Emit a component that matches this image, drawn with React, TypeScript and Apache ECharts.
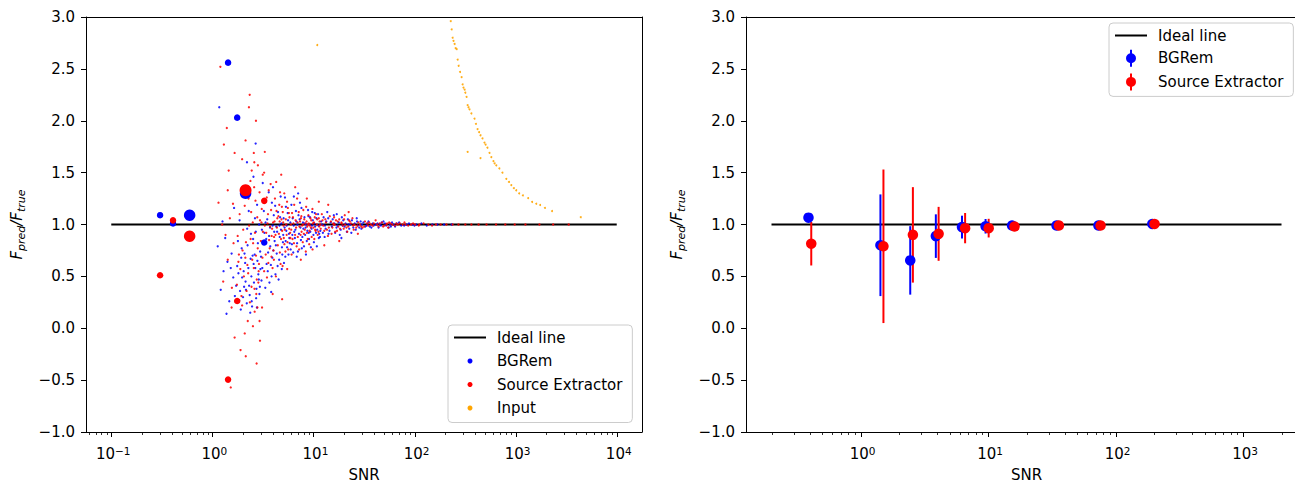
import React, { useEffect, useRef } from 'react';
import * as echarts from 'echarts';

const FONT = 'DejaVu Sans';
const FS = 15;
const BLUE = '#0000ff';
const RED = '#ff0000';
const ORANGE = '#ffa500';
const BLACK = '#000000';

// ---------- data ----------
const Y_MIN = -1;
const Y_MAX = 3;
const Y_INTERVAL = 0.5;

const LEFT_X_RANGE_LOG = [-1.25, 4.25];
const RIGHT_X_RANGE_LOG = [-0.899, 3.501];
const LEFT_MAJOR_EXP = [-1, 0, 1, 2, 3, 4];
const RIGHT_MAJOR_EXP = [0, 1, 2, 3];

const IDEAL_LEFT_SNR = [0.1, 10000];
const IDEAL_RIGHT_SNR = [0.2, 2000];
const IDEAL_RATIO = [1, 1];

// small scatter points [SNR, Fpred/Ftrue]
const BGREM_POINTS: [number, number][] = [
  [1.13, 0.79], [1.17, 2.13], [1.52, 0.58], [1.26, 1.03], [1.61, 0.49], [1.34, 0.87], [1.47, 0.26], [1.41, 0.64], [1.64, 1.16], [1.21, 0.37],
  [1.55, 0.72], [1.38, 0.14], [1.67, 0.31], [1.29, 0.55],
  [2.31, 0.41], [1.84, 0.27], [2.66, 0.58], [2.08, 0.72], [2.92, 0.33], [1.97, 0.49], [2.47, 0.21], [2.79, 0.65], [2.15, 0.37], [1.76, 0.6],
  [2.58, 0.44], [2.23, 0.8], [2.85, 0.52], [1.91, 0.18], [2.39, 0.67], [2.71, 0.29], [2.04, 0.55], [2.97, 0.74], [2.19, 0.24], [1.72, 0.41],
  [2.53, 0.86], [2.34, 0.32], [2.88, 0.47], [2.11, 0.63], [1.88, 0.36], [2.62, 0.71], [2.43, 0.5], [2.76, 0.2], [1.95, 0.77], [2.27, 0.58],
  [2.95, 0.4], [2.01, 0.3], [2.69, 0.93], [2.37, 0.15], [1.81, 0.53], [2.56, 0.62], [2.13, 0.45], [2.82, 0.82], [2.45, 0.26], [1.93, 0.68],
  [2.73, 0.38], [2.21, 0.96], [2.99, 0.57], [2.06, 0.4], [2.5, 0.7], [1.79, 0.84], [2.64, 1.06], [2.29, 1.13], [2.9, 1.0], [2.17, 1.27],
  [2.41, 0.91], [2.77, 1.19], [1.86, 1.04], [2.55, 1.46], [2.68, 1.78], [2.2, 1.6],
  [4.37, 0.93], [3.12, 0.58], [5.61, 1.04], [3.88, 1.21], [4.92, 0.71], [3.41, 0.86], [5.18, 0.97], [3.67, 0.44], [4.05, 1.09], [5.83, 0.82],
  [3.23, 1.13], [4.58, 0.66], [3.95, 0.99], [5.34, 1.17], [3.56, 0.73], [4.21, 0.52], [5.02, 0.9], [3.09, 0.95], [4.74, 1.27], [3.79, 0.61],
  [5.49, 0.78], [4.13, 0.84], [3.34, 0.39], [5.91, 1.02], [4.46, 1.12], [3.72, 0.97], [4.86, 0.57], [3.18, 0.81], [5.27, 0.69], [4.01, 0.75],
  [3.49, 1.05], [5.72, 0.91], [4.64, 0.88], [3.61, 1.31], [4.29, 0.98], [5.11, 0.63], [3.03, 0.69], [4.81, 1.01], [3.85, 0.5], [5.56, 1.11],
  [4.18, 1.18], [3.27, 0.92], [4.99, 0.83], [3.74, 0.79], [5.39, 0.94], [4.52, 0.47], [3.44, 0.62], [5.77, 0.87], [4.09, 0.93], [3.92, 0.68],
  [4.68, 1.07], [5.23, 1.26], [3.15, 1.4], [4.33, 0.72], [5.95, 0.76], [3.53, 0.55], [4.77, 0.95], [3.98, 1.36], [5.44, 0.99], [4.25, 0.8],
  [3.64, 0.89], [5.07, 1.06], [3.36, 1.02], [4.42, 0.6], [5.66, 0.71], [3.82, 0.35], [4.88, 0.78], [3.06, 0.46], [5.31, 0.84], [4.61, 0.99],
  [7.43, 0.97], [6.12, 0.81], [9.86, 1.04], [8.27, 0.9], [6.71, 1.13], [10.9, 0.95], [7.02, 0.74], [8.93, 1.08], [6.38, 0.99], [11.6, 0.88],
  [7.88, 1.02], [9.31, 0.93], [6.55, 0.87], [10.3, 1.11], [8.06, 0.79], [6.94, 1.0], [11.2, 0.99], [7.61, 1.16], [9.04, 0.86], [6.23, 1.06],
  [10.6, 0.92], [8.48, 1.0], [7.19, 0.91], [9.58, 0.96], [6.83, 0.69], [11.9, 1.03], [8.71, 0.94], [7.3, 1.05], [10.1, 0.83], [6.46, 0.93],
  [9.72, 1.12], [8.15, 1.07], [7.77, 0.88], [11.4, 0.91], [6.05, 1.19], [9.17, 1.0], [8.59, 0.84], [10.7, 1.06], [7.11, 1.09], [6.62, 0.95],
  [9.43, 0.78], [8.37, 0.97], [11.1, 1.1], [7.52, 0.85], [6.31, 0.73], [10.4, 0.98], [8.84, 1.14], [7.95, 0.96], [9.99, 0.9], [6.77, 1.03],
  [11.7, 0.94], [8.22, 1.01], [7.67, 0.77], [9.25, 1.07], [6.18, 0.9], [10.2, 1.01], [8.99, 0.92], [7.36, 1.21], [6.89, 0.82], [11.3, 0.87],
  [9.66, 0.99], [6.4, 1.27], [8.43, 0.71], [7.05, 1.3], [10.8, 0.79],
  [17.3, 0.99], [12.6, 1.07], [24.8, 0.97], [14.1, 0.91], [31.2, 1.02], [19.7, 1.04], [13.2, 0.96], [27.5, 0.99], [15.9, 1.09], [36.1, 0.98],
  [21.4, 0.93], [12.2, 1.0], [18.6, 0.95], [29.3, 1.03], [14.8, 1.02], [23.1, 1.0], [38.7, 1.01], [16.4, 0.92], [20.8, 1.01], [13.7, 1.12],
  [26.2, 0.95], [33.5, 0.99], [15.2, 0.98], [19.1, 1.07], [12.9, 0.88], [22.6, 0.96], [35.0, 1.03], [17.8, 1.02], [28.4, 0.97], [14.4, 0.94],
  [24.0, 1.04], [16.9, 0.97], [30.1, 1.0], [13.4, 1.03], [21.9, 1.05], [37.4, 0.97], [18.2, 0.9], [25.6, 1.01], [15.5, 1.05], [32.6, 0.98],
  [20.3, 0.98], [12.4, 0.92], [27.0, 1.03], [16.1, 1.01], [23.7, 0.92], [34.2, 1.01], [19.4, 0.99], [14.0, 1.06], [29.8, 0.96], [17.0, 1.1],
  [22.2, 1.0], [39.4, 0.99], [13.0, 0.99], [26.8, 1.06], [18.9, 0.87],
  [41.5, 1.0], [58.3, 0.98], [47.2, 1.02], [83.6, 1.0], [44.1, 0.97], [66.7, 1.01], [52.4, 0.99], [95.2, 1.0], [49.3, 1.03], [73.8, 0.99],
  [43.0, 1.01], [61.9, 1.0], [55.6, 0.97], [88.1, 1.01], [46.5, 0.99], [70.4, 1.02], [78.9, 0.99], [51.0, 1.01], [64.2, 0.98], [104, 1.0],
  [117, 1.01], [59.9, 1.02], [132, 0.99], [150, 1.0], [45.3, 1.0], [168, 1.0], [57.1, 1.0], [196, 1.0], [233, 1.0], [99.8, 0.99],
];

const SEXTRACTOR_POINTS: [number, number][] = [
  [1.2, 2.52], [1.39, 1.93], [1.3, 1.77], [1.66, 1.69], [1.42, 1.33], [1.42, 0.66], [1.56, 0.39], [1.66, -0.09], [1.52, -0.57], [1.25, 1.0],
  [1.35, 0.9], [1.6, 1.2], [1.45, 1.52], [1.62, 0.82], [1.28, 0.45], [1.49, 1.06], [1.15, 1.21], [1.55, 0.2], [1.9, -0.21], [2.09, -0.05],
  [2.14, -0.27], [2.74, -0.34], [2.24, 0.07], [2.93, 0.07], [3.1, 0.2], [4.9, 0.28], [2.34, 2.25], [2.3, 2.13], [2.7, 2.0], [2.57, 1.69],
  [2.3, 1.36], [2.13, 1.81], [2.6, 1.6], [2.45, 1.52], [2.82, 1.57], [3.3, 1.7], [3.15, 1.48], [2.96, -0.12], [2.52, 0.02], [1.97, 1.63],
  [2.26, 0.53], [1.83, 0.71], [2.61, 0.38], [2.02, 0.95], [2.89, 0.62], [1.94, 0.31], [2.42, 1.12], [2.75, 0.47], [2.12, 0.68], [1.75, 0.42],
  [2.53, 0.82], [2.35, 0.25], [2.96, 1.04], [1.89, 0.57], [2.67, 1.23], [2.18, 0.36], [2.81, 0.77], [2.05, 0.5], [2.48, 0.66], [1.78, 0.89],
  [2.31, 0.99], [2.72, 0.33], [2.09, 1.18], [2.57, 0.58], [1.99, 0.75], [2.85, 0.44], [2.39, 0.86], [1.86, 1.1], [2.64, 0.92], [2.22, 0.61],
  [2.93, 1.31], [2.15, 0.83], [2.78, 1.07], [2.44, 0.4], [1.97, 0.22], [2.7, 0.7], [2.0, 1.27], [2.38, 1.42], [2.79, 0.2], [2.62, 0.16],
  [2.51, 1.02], [2.28, 1.25], [2.87, 0.55], [1.81, 0.64], [2.59, 1.36],
  [4.12, 1.03], [3.37, 0.71], [5.48, 1.22], [3.86, 0.89], [4.73, 0.62], [3.08, 1.15], [5.21, 0.95], [3.61, 1.33], [4.44, 0.8], [5.79, 1.07],
  [3.25, 0.55], [4.97, 1.12], [3.73, 0.98], [4.28, 1.41], [5.63, 0.76], [3.52, 1.01], [4.06, 0.66], [5.09, 0.87], [3.16, 0.93], [4.59, 1.19],
  [3.94, 0.58], [5.37, 1.0], [4.21, 0.9], [3.45, 1.26], [5.88, 0.92], [4.83, 1.05], [3.69, 0.77], [5.14, 1.3], [4.35, 0.97], [3.02, 0.84],
  [5.54, 0.83], [4.65, 0.73], [3.81, 1.14], [5.02, 1.02], [3.3, 0.99], [4.16, 1.25], [5.71, 1.11], [3.58, 0.63], [4.9, 0.94], [4.5, 1.08],
  [3.99, 1.02], [5.28, 0.74], [3.21, 1.22], [4.78, 0.86], [3.77, 1.39], [5.43, 0.9], [4.02, 0.75], [3.41, 0.92], [5.97, 1.0], [4.67, 1.31],
  [3.13, 0.68], [4.39, 1.06], [5.16, 0.81], [3.9, 0.96], [4.25, 0.5], [5.58, 1.16], [3.55, 1.1], [4.87, 1.17], [3.64, 0.85], [5.33, 1.05],
  [4.08, 0.88], [3.47, 0.49], [5.05, 0.99], [4.55, 0.91], [3.84, 0.69], [5.76, 0.96], [4.31, 1.13], [3.06, 1.02], [4.95, 0.6], [3.95, 0.33],
  [4.8, 1.48], [5.5, 0.57], [3.25, 1.5], [4.63, 1.03], [5.91, 0.87],
  [8.34, 1.01], [6.21, 0.86], [10.5, 0.94], [7.15, 1.12], [9.42, 0.97], [6.66, 1.04], [11.3, 1.06], [7.84, 0.83], [8.91, 1.09], [6.03, 0.95],
  [10.1, 1.02], [7.46, 0.9], [9.08, 0.81], [6.45, 1.19], [11.8, 0.96], [8.11, 1.05], [7.27, 0.98], [9.77, 1.15], [6.81, 0.79], [10.8, 1.0],
  [8.62, 0.92], [7.59, 1.08], [6.34, 1.01], [9.21, 0.99], [11.0, 0.9], [7.0, 0.88], [8.47, 1.17], [10.3, 1.07], [6.97, 1.02], [9.6, 0.88],
  [7.71, 0.99], [6.14, 1.11], [11.5, 1.03], [8.78, 0.86], [10.0, 0.97], [7.37, 1.03], [9.34, 1.06], [6.58, 0.9], [8.2, 0.95], [11.2, 0.93],
  [7.94, 1.14], [6.74, 0.97], [9.88, 1.01], [8.55, 1.03], [10.6, 1.1], [7.22, 0.76], [6.27, 1.07], [9.13, 0.94], [11.7, 1.0], [8.03, 0.91],
  [7.52, 1.06], [10.2, 0.86], [6.89, 1.25], [9.51, 1.04], [8.68, 0.98], [6.41, 0.82], [10.9, 1.05], [7.63, 0.93], [9.0, 1.01], [8.4, 0.74],
  [11.4, 0.98], [6.6, 1.36], [7.5, 0.66], [8.6, 1.25], [9.8, 0.76], [11.3, 1.22], [6.08, 0.71], [7.9, 1.0], [10.4, 0.95], [8.87, 1.0],
  [16.2, 1.0], [12.8, 0.94], [22.9, 1.03], [14.5, 1.08], [29.7, 0.98], [18.3, 0.96], [13.3, 1.02], [25.4, 1.0], [15.1, 0.91], [33.9, 1.01],
  [20.1, 1.05], [12.1, 1.1], [17.6, 0.98], [27.8, 1.02], [14.2, 0.97], [21.6, 0.93], [37.0, 1.0], [16.7, 1.04], [19.5, 0.99], [13.9, 0.89],
  [24.3, 1.06], [31.8, 0.98], [15.7, 1.01], [18.9, 1.02], [12.5, 0.99], [22.1, 0.98], [35.6, 1.02], [17.1, 0.94], [26.5, 0.97], [14.9, 1.03],
  [23.5, 1.01], [16.0, 1.07], [28.9, 1.0], [13.6, 0.95], [20.6, 1.0], [38.5, 0.99], [18.0, 1.05], [25.0, 0.95], [15.4, 0.97], [32.3, 1.03],
  [19.9, 0.96], [12.3, 1.04], [27.2, 0.99], [16.4, 0.93], [22.5, 1.04], [34.8, 0.99], [19.0, 1.01], [13.1, 1.05], [30.6, 0.97], [17.4, 1.03],
  [21.2, 0.97], [39.6, 1.01], [14.0, 1.19], [18.0, 0.84], [22.3, 1.12], [27.5, 0.91], [12.8, 0.8], [15.9, 1.0], [24.7, 0.99], [20.4, 1.09],
  [42.7, 1.0], [56.1, 1.02], [48.9, 0.98], [81.2, 1.0], [45.2, 1.01], [63.7, 0.99], [53.5, 1.01], [92.4, 1.0], [50.1, 0.99], [71.6, 1.01],
  [44.0, 0.98], [60.3, 1.0], [57.9, 1.01], [86.5, 0.99], [47.8, 1.02], [68.2, 1.0], [76.3, 1.0], [52.6, 1.0], [65.9, 1.01], [101, 1.0],
  [112, 1.0], [123, 1.01], [137, 1.0], [149, 0.99], [163, 1.0], [181, 1.0], [207, 1.0], [238, 1.0], [272, 1.0], [318, 1.0], [365, 1.0],
  [430, 1.0], [515, 1.0], [640, 1.0], [790, 1.0], [980, 1.0], [1250, 1.0], [1720, 1.0], [2350, 1.0], [3350, 1.0], [54.8, 0.97], [79.5, 1.02],
  [41.2, 1.04], [96.7, 1.01], [110, 0.99],
];

const INPUT_POINTS: [number, number][] = [
  [228, 2.96], [233, 2.88], [238, 2.8], [243, 2.77], [249, 2.74], [255, 2.7], [261, 2.69], [267, 2.59], [273, 2.53], [282, 2.47], [292, 2.42],
  [299, 2.35], [305, 2.32], [313, 2.3], [318, 2.27], [327, 2.23], [335, 2.15], [342, 2.13], [350, 2.11], [365, 2.07], [392, 2.02], [405, 1.97],
  [420, 1.92], [435, 1.89], [449, 1.86], [470, 1.83], [492, 1.79], [505, 1.77], [526, 1.74], [551, 1.69], [575, 1.65], [603, 1.61], [620, 1.59],
  [644, 1.57], [690, 1.54], [740, 1.5], [809, 1.44], [860, 1.41], [906, 1.38], [960, 1.35], [1014, 1.33], [1084, 1.3], [1180, 1.28],
  [1330, 1.255], [1455, 1.217], [1600, 1.2], [1746, 1.188], [1950, 1.16], [2291, 1.13], [4406, 1.07], [335, 1.7], [449, 1.64], [10.9, 2.73],
];

// larger markers in the left panel
const BGREM_BIG_SNR = [0.304, 0.408, 0.596, 1.43, 1.76, 2.13, 3.26];
const BGREM_BIG_RATIO = [1.09, 1.01, 1.09, 2.56, 2.03, 1.3, 0.826];
const BGREM_BIG_WEIGHT = [1, 1, 3, 1, 1, 3, 1];
const SE_BIG_SNR = [0.304, 0.408, 0.596, 1.43, 1.76, 2.13, 3.26];
const SE_BIG_RATIO = [0.511, 1.04, 0.887, -0.495, 0.263, 1.33, 1.228];
const SE_BIG_WEIGHT = [1, 1, 3, 1, 1, 3.2, 1];

// binned means with error bars (right panel)
const BGREM_BIN_SNR = [0.39, 1.43, 2.45, 3.89, 6.24, 9.55, 15.4, 34.4, 73.3, 194];
const BGREM_BIN_RATIO = [1.066, 0.8, 0.654, 0.888, 0.975, 0.983, 0.99, 0.99, 0.99, 1.005];
const BGREM_BIN_ERR = [0.02, 0.49, 0.33, 0.21, 0.11, 0.07, 0.03, 0.02, 0.015, 0.01];
const SE_BIN_SNR = [0.41, 1.51, 2.57, 4.09, 6.6, 10.1, 16.1, 35.9, 76.2, 202];
const SE_BIN_RATIO = [0.815, 0.79, 0.9, 0.91, 0.965, 0.965, 0.98, 0.99, 0.99, 1.005];
const SE_BIN_ERR = [0.21, 0.74, 0.46, 0.26, 0.146, 0.09, 0.03, 0.02, 0.015, 0.01];

// ---------- helpers ----------
const powLabel = (e: number) => '{b|10}{e|' + String(e).replace('-', '\u2212') + '}';
const lg = (v: number) => Math.log10(v);

function minorExps(range: number[]) {
  const out: number[] = [];
  for (let n = Math.floor(range[0]) - 1; n <= Math.ceil(range[1]); n++) {
    for (let k = 2; k <= 9; k++) {
      const v = n + Math.log10(k);
      if (v > range[0] && v < range[1]) out.push(v);
    }
  }
  return out;
}

const tickRich = {
  b: { fontSize: FS, fontFamily: FONT, color: BLACK, lineHeight: 18 },
  e: { fontSize: 10.5, fontFamily: FONT, color: BLACK, lineHeight: 8, verticalAlign: 'top' },
};

function xTickSeries(xAxisIndex: number, yAxisIndex: number, values: number[], labels: string[] | null, len: number) {
  return {
    type: 'custom',
    xAxisIndex,
    yAxisIndex,
    silent: true,
    clip: false,
    z: 10,
    data: values.map((v) => [v, Y_MIN]),
    encode: { x: 0, y: 1 },
    renderItem: (params: any, api: any) => {
      const p = api.coord([api.value(0), Y_MIN]);
      const x = Math.round(p[0]) + 0.5;
      const y0 = Math.round(p[1]);
      const children: any[] = [
        { type: 'line', shape: { x1: x, y1: y0, x2: x, y2: y0 + len }, style: { stroke: BLACK, lineWidth: labels ? 1 : 0.8 } },
      ];
      if (labels) {
        children.push({
          type: 'text',
          x: p[0] + 2,
          y: y0 + 13,
          style: { text: labels[params.dataIndex], rich: tickRich, fill: BLACK, fontSize: FS, fontFamily: FONT, align: 'center', verticalAlign: 'top' },
        });
      }
      return { type: 'group', children };
    },
  };
}

function errorBarSeries(name: string, color: string, snr: number[], ratio: number[], err: number[]) {
  return {
    type: 'custom',
    name,
    xAxisIndex: 2,
    yAxisIndex: 2,
    z: 3,
    itemStyle: { color },
    data: snr.map((s, i) => [lg(s), ratio[i], err[i]]),
    encode: { x: 0, y: 1 },
    renderItem: (params: any, api: any) => {
      const x = api.value(0);
      const y = api.value(1);
      const e = api.value(2);
      const a = api.coord([x, y + e]);
      const b = api.coord([x, y - e]);
      return { type: 'line', shape: { x1: a[0], y1: a[1], x2: b[0], y2: b[1] }, style: { stroke: color, lineWidth: 2 } };
    },
  };
}

const yLabelRich = {
  i: { fontSize: FS, fontStyle: 'italic', fontFamily: FONT, color: BLACK, lineHeight: 20 },
  s: { fontSize: 11, fontStyle: 'italic', fontFamily: FONT, color: BLACK, lineHeight: 12, verticalAlign: 'bottom' },
};

function yAxes(gridIndex: number) {
  const base = { type: 'value', gridIndex, min: Y_MIN, max: Y_MAX, interval: Y_INTERVAL, splitLine: { show: false } };
  return [
    {
      ...base,
      position: 'left',
      axisLine: { show: true, onZero: false, lineStyle: { color: BLACK, width: 1 } },
      axisTick: { show: true, length: 5, lineStyle: { color: BLACK, width: 1 } },
      axisLabel: {
        show: true,
        margin: 11,
        color: BLACK,
        fontSize: FS,
        fontFamily: FONT,
        formatter: (v: number) => v.toFixed(1).replace('-', '\u2212'),
      },
      name: '{i|F}{s|pred}{i|/F}{s|true}',
      nameLocation: 'middle',
      nameRotate: 90,
      nameGap: 59,
      nameTextStyle: { rich: yLabelRich },
    },
    {
      ...base,
      position: 'right',
      axisLine: { show: true, onZero: false, lineStyle: { color: BLACK, width: 1 } },
      axisTick: { show: false },
      axisLabel: { show: false },
    },
  ];
}

function xAxes(gridIndex: number, range: number[]) {
  const base = { type: 'value', gridIndex, min: range[0], max: range[1], splitLine: { show: false }, axisTick: { show: false }, axisLabel: { show: false } };
  return [
    {
      ...base,
      position: 'bottom',
      axisLine: { show: true, onZero: false, lineStyle: { color: BLACK, width: 1 } },
      name: 'SNR',
      nameLocation: 'middle',
      nameGap: 35,
      nameTextStyle: { fontSize: FS, fontFamily: FONT, color: BLACK, lineHeight: 15 },
    },
    { ...base, position: 'top', axisLine: { show: true, onZero: false, lineStyle: { color: BLACK, width: 1 } } },
  ];
}

const LINE_ICON = 'path://M0,0H32V2H0Z';
const ERR_ICON = 'path://M4,0H6V17H4Z M0,8.5A5,5 0 1,1 10,8.5A5,5 0 1,1 0,8.5Z';

function buildOption(): any {
  const leftMinor = minorExps(LEFT_X_RANGE_LOG);
  const rightMinor = minorExps(RIGHT_X_RANGE_LOG);
  const legendCommon = {
    orient: 'vertical',
    selectedMode: false,
    itemWidth: 32,
    backgroundColor: 'rgba(255,255,255,0.8)',
    borderColor: '#cccccc',
    borderWidth: 1,
    borderRadius: 4,
    itemStyle: { borderWidth: 0, opacity: 1 },
    textStyle: { fontSize: FS, fontFamily: FONT, color: BLACK, padding: [0, 0, 0, 6] },
  };
  return {
    animation: false,
    backgroundColor: '#ffffff',
    textStyle: { fontFamily: FONT },
    grid: [
      { left: 86, top: 17, width: 556, height: 415, containLabel: false, outerBoundsMode: 'none' },
      { left: 746, top: 17, width: 561, height: 415, containLabel: false, outerBoundsMode: 'none' },
    ],
    xAxis: [...xAxes(0, LEFT_X_RANGE_LOG), ...xAxes(1, RIGHT_X_RANGE_LOG)],
    yAxis: [...yAxes(0), ...yAxes(1)],
    legend: [
      {
        ...legendCommon,
        left: 448,
        top: 325,
        itemHeight: 5,
        itemGap: 8.5,
        padding: [5, 10, 7, 6],
        data: [
          { name: 'Ideal line', icon: LINE_ICON },
          { name: 'BGRem', icon: 'circle' },
          { name: 'Source Extractor', icon: 'circle' },
          { name: 'Input', icon: 'circle' },
        ],
      },
      {
        ...legendCommon,
        left: 1109,
        top: 23,
        itemHeight: 17,
        itemGap: 6.7,
        padding: [5, 10, 6, 6],
        data: [
          { name: 'Ideal line', icon: LINE_ICON },
          { name: 'BGRem', icon: ERR_ICON },
          { name: 'Source Extractor', icon: ERR_ICON },
        ],
      },
    ],
    series: [
      // left panel big markers (first so legend picks their style)
      {
        type: 'scatter',
        name: 'BGRem',
        xAxisIndex: 0,
        yAxisIndex: 0,
        z: 3,
        color: BLUE,
        itemStyle: { color: BLUE, opacity: 1 },
        symbol: 'circle',
        data: BGREM_BIG_SNR.map((s, i) => [lg(s), BGREM_BIG_RATIO[i], BGREM_BIG_WEIGHT[i]]),
        symbolSize: (v: number[]) => 4 + 2.5 * v[2],
      },
      {
        type: 'scatter',
        name: 'Source Extractor',
        xAxisIndex: 0,
        yAxisIndex: 0,
        z: 3,
        color: RED,
        itemStyle: { color: RED, opacity: 1 },
        symbol: 'circle',
        data: SE_BIG_SNR.map((s, i) => [lg(s), SE_BIG_RATIO[i], SE_BIG_WEIGHT[i]]),
        symbolSize: (v: number[]) => 4 + 2.5 * v[2],
      },
      {
        type: 'line',
        name: 'Ideal line',
        xAxisIndex: 0,
        yAxisIndex: 0,
        z: 1,
        color: BLACK,
        symbol: 'none',
        lineStyle: { color: BLACK, width: 2 },
        data: IDEAL_LEFT_SNR.map((s, i) => [lg(s), IDEAL_RATIO[i]]),
      },
      {
        type: 'scatter',
        name: 'BGRem',
        xAxisIndex: 0,
        yAxisIndex: 0,
        z: 2,
        symbol: 'circle',
        symbolSize: 2.3,
        itemStyle: { color: BLUE, opacity: 0.85 },
        data: BGREM_POINTS.map((p) => [lg(p[0]), p[1]]),
      },
      {
        type: 'scatter',
        name: 'Source Extractor',
        xAxisIndex: 0,
        yAxisIndex: 0,
        z: 2,
        symbol: 'circle',
        symbolSize: 2.3,
        itemStyle: { color: RED, opacity: 0.85 },
        data: SEXTRACTOR_POINTS.map((p) => [lg(p[0]), p[1]]),
      },
      {
        type: 'scatter',
        name: 'Input',
        xAxisIndex: 0,
        yAxisIndex: 0,
        z: 2,
        color: ORANGE,
        symbol: 'circle',
        symbolSize: 2,
        itemStyle: { color: ORANGE, opacity: 0.9 },
        data: INPUT_POINTS.map((p) => [lg(p[0]), p[1]]),
      },
      // right panel
      {
        type: 'line',
        name: 'Ideal line',
        xAxisIndex: 2,
        yAxisIndex: 2,
        z: 1,
        color: BLACK,
        symbol: 'none',
        lineStyle: { color: BLACK, width: 2 },
        data: IDEAL_RIGHT_SNR.map((s, i) => [lg(s), IDEAL_RATIO[i]]),
      },
      errorBarSeries('BGRem', BLUE, BGREM_BIN_SNR, BGREM_BIN_RATIO, BGREM_BIN_ERR),
      {
        type: 'scatter',
        name: 'BGRem',
        xAxisIndex: 2,
        yAxisIndex: 2,
        z: 3,
        symbol: 'circle',
        symbolSize: 10.5,
        itemStyle: { color: BLUE, opacity: 1 },
        data: BGREM_BIN_SNR.map((s, i) => [lg(s), BGREM_BIN_RATIO[i]]),
      },
      errorBarSeries('Source Extractor', RED, SE_BIN_SNR, SE_BIN_RATIO, SE_BIN_ERR),
      {
        type: 'scatter',
        name: 'Source Extractor',
        xAxisIndex: 2,
        yAxisIndex: 2,
        z: 3,
        symbol: 'circle',
        symbolSize: 10.5,
        itemStyle: { color: RED, opacity: 1 },
        data: SE_BIN_SNR.map((s, i) => [lg(s), SE_BIN_RATIO[i]]),
      },
      // x-axis ticks & labels (log scale)
      xTickSeries(0, 0, LEFT_MAJOR_EXP, LEFT_MAJOR_EXP.map(powLabel), 5),
      xTickSeries(0, 0, leftMinor, null, 3),
      xTickSeries(2, 2, RIGHT_MAJOR_EXP, RIGHT_MAJOR_EXP.map(powLabel), 5),
      xTickSeries(2, 2, rightMinor, null, 3),
    ],
  };
}

export default function App() {
  const ref = useRef<HTMLDivElement>(null);
  useEffect(() => {
    document.body.style.margin = '0';
    document.body.style.overflow = 'hidden';
    if (!ref.current) return;
    const chart = echarts.init(ref.current, null, { renderer: 'svg' });
    chart.setOption(buildOption());
    return () => chart.dispose();
  }, []);
  return (
    <div
      ref={ref}
      style={{ position: 'fixed', left: 0, top: 0, width: 1295, height: 483, overflow: 'hidden', background: '#ffffff' }}
    />
  );
}
